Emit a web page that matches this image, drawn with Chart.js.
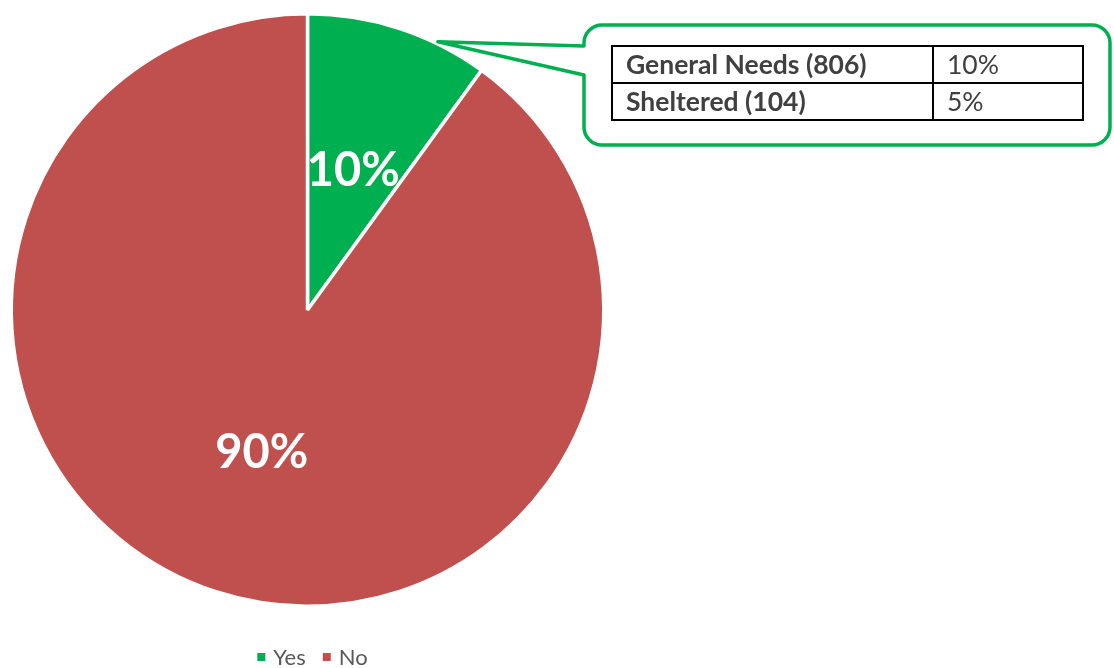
<!DOCTYPE html>
<html lang="en">
<head>
  <meta charset="UTF-8" />
  <title>Sheltered vs General Needs</title>
  <script src="https://cdn.jsdelivr.net/npm/chart.js"></script>
  <style>
    html, body {
      margin: 0;
      padding: 0;
      background: #ffffff;
      overflow: hidden;
    }
    .wrap {
      position: relative;
      width: 1114px;
      height: 668px;
    }
    /* Breakdown table inside the callout */
    .breakdown {
      position: absolute;
      left: 611px;
      top: 45px;
      width: 473px;
      height: 75px;
      border-collapse: collapse;
      font-family: Lato, "Open Sans", sans-serif;
      font-size: 26.5px;
      color: #404040;
    }
    .breakdown td {
      border: 2px solid #000;
      padding: 0 0 0 13px;
      height: 35px;
      line-height: 1;
    }
    .breakdown td.name {
      font-weight: bold;
      width: 306px;
    }
  </style>
</head>
<body>
  <div class="wrap">
    <canvas id="pieChart" width="1114" height="668"></canvas>
    <table class="breakdown" id="breakdown"></table>
  </div>

  <script>
    // Pie data
    const categories = ['Yes', 'No'];
    const shares = [10, 90];
    const colours = ['#00B050', '#C0504D'];

    // Callout rows
    const rowNames = ['General Needs (806)', 'Sheltered (104)'];
    const rowShares = [10, 5];

    // Fill the callout table
    const table = document.getElementById('breakdown');
    rowNames.forEach((name, i) => {
      const tr = document.createElement('tr');
      tr.innerHTML = '<td class="name">' + name + '</td><td>' + rowShares[i] + '%</td>';
      table.appendChild(tr);
    });

    // Percent labels on the slices
    const sliceLabels = {
      id: 'sliceLabels',
      afterDatasetsDraw(chart) {
        const ctx = chart.ctx;
        const data = chart.data.datasets[0].data;
        const total = data.reduce((a, b) => a + b, 0);
        ctx.save();
        ctx.fillStyle = '#ffffff';
        ctx.font = 'bold 47px Lato, sans-serif';
        ctx.textAlign = 'center';
        ctx.textBaseline = 'middle';
        chart.getDatasetMeta(0).data.forEach((arc, i) => {
          const pos = arc.tooltipPosition();
          ctx.fillText(Math.round(data[i] / total * 100) + '%', pos.x, pos.y + 2);
        });
        ctx.restore();
      }
    };

    // Rounded callout box with a pointer into the "Yes" slice
    const callout = {
      id: 'callout',
      afterDraw(chart) {
        const ctx = chart.ctx;
        const arc = chart.getDatasetMeta(0).data[0];
        const a = arc.startAngle + (arc.endAngle - arc.startAngle) * 0.72;
        const tipX = arc.x + Math.cos(a) * (arc.outerRadius + 2);
        const tipY = arc.y + Math.sin(a) * (arc.outerRadius + 2);
        const l = 584, t = 25, r = 1110, b = 145, rad = 18;
        ctx.save();
        ctx.strokeStyle = '#00B050';
        ctx.lineWidth = 3.5;
        ctx.lineJoin = 'round';
        ctx.beginPath();
        ctx.moveTo(tipX, tipY);
        ctx.lineTo(l, 46);
        ctx.arcTo(l, t, l + rad, t, rad);
        ctx.lineTo(r - rad, t);
        ctx.arcTo(r, t, r, t + rad, rad);
        ctx.lineTo(r, b - rad);
        ctx.arcTo(r, b, r - rad, b, rad);
        ctx.lineTo(l + rad, b);
        ctx.arcTo(l, b, l, b - rad, rad);
        ctx.lineTo(l, 75);
        ctx.closePath();
        ctx.stroke();
        ctx.restore();
      }
    };

    // Small legend centred under the pie
    const pieLegend = {
      id: 'pieLegend',
      afterDraw(chart) {
        const ctx = chart.ctx;
        const area = chart.chartArea;
        const box = 8, gap = 8, itemGap = 17;
        ctx.save();
        ctx.font = '22px Lato, sans-serif';
        ctx.textBaseline = 'middle';
        const widths = categories.map(c => box + gap + ctx.measureText(c).width);
        const total = widths.reduce((s, w) => s + w, 0) + itemGap * (categories.length - 1);
        let x = (area.left + area.right) / 2 + 5 - total / 2;
        const y = 657;
        categories.forEach((c, i) => {
          ctx.fillStyle = colours[i];
          ctx.fillRect(x, y - box / 2, box, box);
          ctx.fillStyle = '#595959';
          ctx.fillText(c, x + box + gap, y + 1);
          x += widths[i] + itemGap;
        });
        ctx.restore();
      }
    };

    const ctx = document.getElementById('pieChart').getContext('2d');
    const pieChart = new Chart(ctx, {
      type: 'pie',
      data: {
        labels: categories,
        datasets: [{
          data: shares,
          backgroundColor: colours,
          borderColor: '#ffffff',
          borderWidth: 3.5
        }]
      },
      options: {
        responsive: false,
        animation: false,
        layout: {
          padding: { left: 9, right: 508, top: 12, bottom: 60 }
        },
        plugins: {
          legend: { display: false },
          tooltip: { enabled: false }
        }
      },
      plugins: [sliceLabels, callout, pieLegend]
    });
  </script>
</body>
</html>
